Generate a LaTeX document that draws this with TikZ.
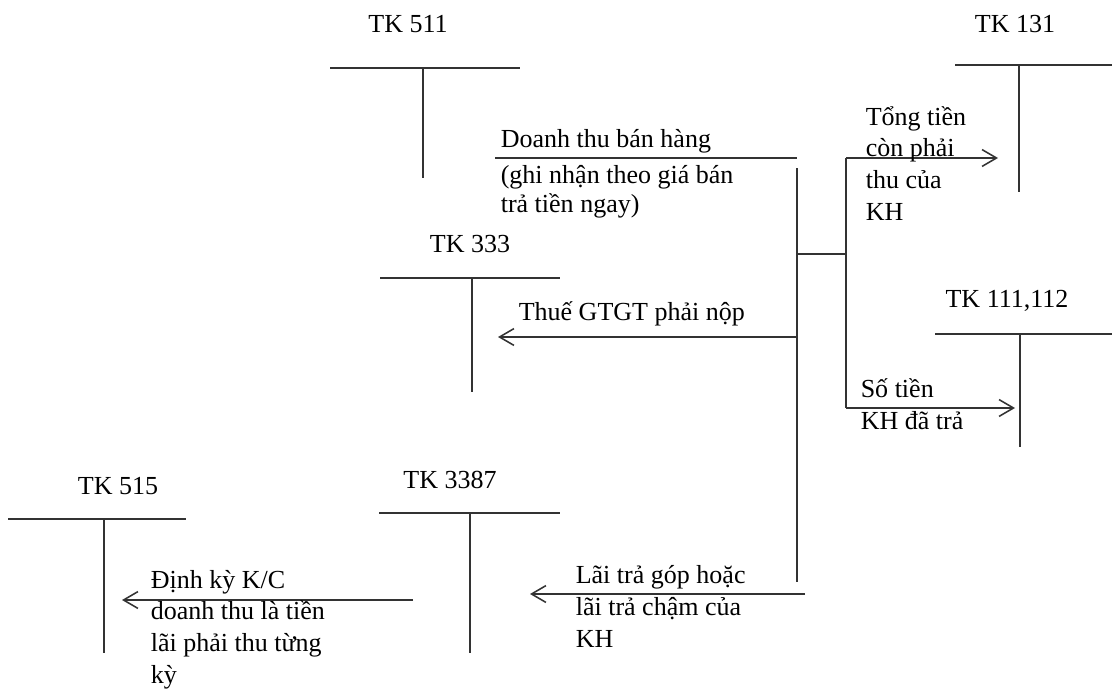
\documentclass[tikz,border=0pt]{standalone}
\usepackage{fontspec}
\setmainfont{Liberation Serif}
\usetikzlibrary{arrows.meta}
\begin{document}
\begin{tikzpicture}[x=0.025cm,y=-0.025cm,line width=1.1pt,draw=black!80,
	>={Straight Barb[length=3.6mm,width=4.2mm]},
	every node/.style={font=\fontsize{18.5}{22.5}\selectfont,inner sep=0pt},
	acct/.style={anchor=base},
	note/.style={anchor=base west,align=left}]
	\useasboundingbox (0,0) rectangle (1112,690);
	
	% T accounts
	\node[acct] (tk511) at (408,33) {TK 511};
	\coordinate (a511l) at (330,68); \coordinate (a511r) at (520,68);
	\coordinate (a511t) at (423,68); \coordinate (a511b) at (423,178);
	\draw (a511l)--(a511r); \draw (a511t)--(a511b);
	
	\node[acct] (tk131) at (1015,33) {TK 131};
	\coordinate (a131l) at (955,65); \coordinate (a131r) at (1112,65);
	\coordinate (a131t) at (1019,65); \coordinate (a131b) at (1019,192);
	\draw (a131l)--(a131r); \draw (a131t)--(a131b);
	
	\node[acct] (tk333) at (470,252) {TK 333};
	\coordinate (a333l) at (380,278); \coordinate (a333r) at (560,278);
	\coordinate (a333t) at (472,278); \coordinate (a333b) at (472,392);
	\draw (a333l)--(a333r); \draw (a333t)--(a333b);
	
	\node[acct] (tk111) at (1007,307) {TK 111,112};
	\coordinate (a111l) at (935,334); \coordinate (a111r) at (1112,334);
	\coordinate (a111t) at (1020,334); \coordinate (a111b) at (1020,447);
	\draw (a111l)--(a111r); \draw (a111t)--(a111b);
	
	\node[acct] (tk3387) at (450,488) {TK 3387};
	\coordinate (a3387l) at (379,513); \coordinate (a3387r) at (560,513);
	\coordinate (a3387t) at (470,513); \coordinate (a3387b) at (470,653);
	\draw (a3387l)--(a3387r); \draw (a3387t)--(a3387b);
	
	\node[acct] (tk515) at (118,494) {TK 515};
	\coordinate (a515l) at (8,519); \coordinate (a515r) at (186,519);
	\coordinate (a515t) at (104,519); \coordinate (a515b) at (104,653);
	\draw (a515l)--(a515r); \draw (a515t)--(a515b);
	
	% flows
	\coordinate (s0) at (495,158); \coordinate (s1) at (797,158);
	\draw (s0)--(s1);
	\coordinate (m0) at (797,168); \coordinate (m1) at (797,582);
	\draw (m0)--(m1);
	\coordinate (j0) at (797,254); \coordinate (j1) at (846,254);
	\draw (j0)--(j1);
	\coordinate (b0) at (846,158); \coordinate (b1) at (846,408);
	\draw (b0)--(b1);
	\coordinate (e131) at (998,158); \draw[->] (b0)--(e131);
	\coordinate (e111) at (1015,408); \draw[->] (b1)--(e111);
	\coordinate (g0) at (797,337); \coordinate (e333) at (498,337);
	\draw[->] (g0)--(e333);
	\coordinate (l0) at (805,594); \coordinate (e3387) at (530,594);
	\draw[->] (l0)--(e3387);
	\coordinate (k0) at (413,600); \coordinate (e515) at (122,600);
	\draw[->] (k0)--(e515);
	
	% labels (base = last line)
	\node[note] (dt) at (500,148) {Doanh thu bán hàng};
	\node[note,font=\fontsize{18.5}{20.5}\selectfont] (dtg) at (500,212) {(ghi nhận theo giá bán\\trả tiền ngay)};
	\node[note] (tt) at (865,220) {Tổng tiền\\còn phải\\thu của\\KH};
	\node[note] (gt) at (518,320) {Thuế GTGT phải nộp};
	\node[note] (st) at (860,429) {Số tiền\\KH đã trả};
	\node[note] (lt) at (575,647) {Lãi trả góp hoặc\\lãi trả chậm của\\KH};
	\node[note] (dk) at (150,683) {Định kỳ K/C\\doanh thu là tiền\\lãi phải thu từng\\kỳ};
\end{tikzpicture}
\end{document}
